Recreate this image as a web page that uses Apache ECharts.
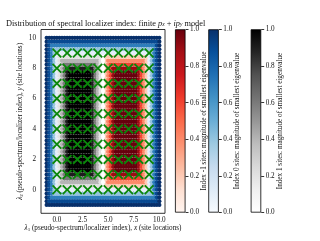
<!DOCTYPE html>
<html><head><meta charset="utf-8">
<script src="https://cdn.jsdelivr.net/npm/echarts@6/dist/echarts.min.js"></script>
<style>html,body{margin:0;padding:0;background:#fff}#c{width:320px;height:241px}</style>
</head><body><div id="c"></div>
<script>
// grid of probe points (pseudo-spectrum coordinates)
const xCoords = [-1,-0.75,-0.5,-0.25,0,0.25,0.5,0.75,1,1.25,1.5,1.75,2,2.25,2.5,2.75,3,3.25,3.5,3.75,4,4.25,4.5,4.75,5,5.25,5.5,5.75,6,6.25,6.5,6.75,7,7.25,7.5,7.75,8,8.25,8.5,8.75,9,9.25,9.5,9.75,10];
const yCoords = [-1,-0.75,-0.5,-0.25,0,0.25,0.5,0.75,1,1.25,1.5,1.75,2,2.25,2.5,2.75,3,3.25,3.5,3.75,4,4.25,4.5,4.75,5,5.25,5.5,5.75,6,6.25,6.5,6.75,7,7.25,7.5,7.75,8,8.25,8.5,8.75,9,9.25,9.5,9.75,10];
// rows from y=-1 (bottom) to y=10 (top), run-length encoded.
// a..k : index 0 (magnitude 0.0..1.0), A..K : index 1, p..z : index -1
const magnitudeRows = [
 "k45",
 "kj43k",
 "kjh41jk",
 "kjhe39hjk",
 "kjheb37ehjk",
 "kjhebC17Ar17behjk",
 "kjhebCE15CArt15rbehjk",
 "kjhebCEG13ECArtv13trbehjk",
 "kjhebCEGJ11GECArtvy11vtrbehjk",
 "kjhebCEGJK9JGECArtvyz9yvtrbehjk",
 "kjhebCEGJK9JGECArtvyz9yvtrbehjk",
 "kjhebCEGJK9JGECArtvyz9yvtrbehjk",
 "kjhebCEGJK9JGECArtvyz9yvtrbehjk",
 "kjhebCEGJK9JGECArtvyz9yvtrbehjk",
 "kjhebCEGJK9JGECArtvyz9yvtrbehjk",
 "kjhebCEGJK9JGECArtvyz9yvtrbehjk",
 "kjhebCEGJK9JGECArtvyz9yvtrbehjk",
 "kjhebCEGJK9JGECArtvyz9yvtrbehjk",
 "kjhebCEGJK9JGECArtvyz9yvtrbehjk",
 "kjhebCEGJK9JGECArtvyz9yvtrbehjk",
 "kjhebCEGJK9JGECArtvyz9yvtrbehjk",
 "kjhebCEGJK9JGECArtvyz9yvtrbehjk",
 "kjhebCEGJK9JGECArtvyz9yvtrbehjk",
 "kjhebCEGJK9JGECArtvyz9yvtrbehjk",
 "kjhebCEGJK9JGECArtvyz9yvtrbehjk",
 "kjhebCEGJK9JGECArtvyz9yvtrbehjk",
 "kjhebCEGJK9JGECArtvyz9yvtrbehjk",
 "kjhebCEGJK9JGECArtvyz9yvtrbehjk",
 "kjhebCEGJK9JGECArtvyz9yvtrbehjk",
 "kjhebCEGJK9JGECArtvyz9yvtrbehjk",
 "kjhebCEGJK9JGECArtvyz9yvtrbehjk",
 "kjhebCEGJK9JGECArtvyz9yvtrbehjk",
 "kjhebCEGJK9JGECArtvyz9yvtrbehjk",
 "kjhebCEGJK9JGECArtvyz9yvtrbehjk",
 "kjhebCEGJK9JGECArtvyz9yvtrbehjk",
 "kjhebCEGJK9JGECArtvyz9yvtrbehjk",
 "kjhebCEGJ11GECArtvy11vtrbehjk",
 "kjhebCEG13ECArtv13trbehjk",
 "kjhebCE15CArt15rbehjk",
 "kjhebC17Ar17behjk",
 "kjheb37ehjk",
 "kjhe39hjk",
 "kjh41jk",
 "kj43k",
 "k45"
];
// lattice site locations
const siteX = [0,1,2,3,4,5,6,7,8,9];
const siteY = [0,1,2,3,4,5,6,7,8,9];
const xTicks = [0, 2.5, 5, 7.5, 10];
const yTicks = [0, 2, 4, 6, 8, 10];
const cbTicks = [0, 0.2, 0.4, 0.6, 0.8, 1.0];

const REDS = ['#fff5f0','#fee0d2','#fcbba1','#fc9272','#fb6a4a','#ef3b2c','#cb181d','#a50f15','#67000d'];
const BLUES = ['#f7fbff','#deebf7','#c6dbef','#9ecae1','#6baed6','#4292c6','#2171b5','#08519c','#08306b'];
const GREYS = ['#ffffff','#f0f0f0','#d9d9d9','#bdbdbd','#969696','#737373','#525252','#252525','#000000'];

const pts = {'-1': [], '0': [], '1': []};
magnitudeRows.forEach((row, j) => {
  let i = 0;
  row.replace(/([a-zA-Z])(\d*)/g, (m, c, n) => {
    const cnt = n ? parseInt(n, 10) : 1;
    const code = c.charCodeAt(0);
    let idx, v;
    if (c >= 'a' && c <= 'k') { idx = '0'; v = (code - 97) / 10; }
    else if (c >= 'A' && c <= 'K') { idx = '1'; v = (code - 65) / 10; }
    else { idx = '-1'; v = (code - 112) / 10; }
    for (let k = 0; k < cnt; k++) { pts[idx].push([xCoords[i], yCoords[j], v]); i++; }
    return m;
  });
});
const sites = [];
siteY.forEach(y => siteX.forEach(x => sites.push([x, y])));

const FONT = 'Liberation Serif';
const TXT = '#111';
const FS = 7.2;
const rich = {
  m: {fontFamily: FONT, fontStyle: 'italic', fontSize: FS, color: TXT},
  n: {fontFamily: FONT, fontSize: 5, color: TXT, verticalAlign: 'bottom', padding: [3,0,0,0]}
};
const grad = (cm) => ({type: 'linear', x: 0, y: 0, x2: 0, y2: 1,
  colorStops: cm.slice().reverse().map((c, k) => ({offset: k / (cm.length - 1), color: c}))});

const cbLeft = [175, 208.3, 250.7];
const cbNames = ['Index -1 sites: magnitude of smallest eigenvalue',
                 'Index 0 sites: magnitude of smallest eigenvalue',
                 'Index 1 sites: magnitude of smallest eigenvalue'];
const cbMaps = [REDS, BLUES, GREYS];

const XSYM = 'path://M0,1.3L1.3,0L5,3.7L8.7,0L10,1.3L6.3,5L10,8.7L8.7,10L5,6.3L1.3,10L0,8.7L3.7,5Z';

const option = {
  animation: false,
  backgroundColor: '#fff',
  title: {
    text: 'Distribution of spectral localizer index: finite {m|p}{s|x} + {m|ip}{s|y} model',
    left: 1, top: 14,
    textStyle: {fontFamily: FONT, fontSize: 8.3, fontWeight: 'normal', color: TXT,
      rich: {m: {fontFamily: FONT, fontStyle: 'italic', fontSize: 8.3, color: TXT},
             s: {fontFamily: FONT, fontStyle: 'italic', fontSize: 5.5, color: TXT, verticalAlign: 'bottom', padding: [3,0,0,0]}}}
  },
  grid: [
    {left: 41, top: 29.5, width: 124, height: 183.8, show: true, borderColor: '#000', borderWidth: 0.8, backgroundColor: 'transparent'},
    ...cbLeft.map(l => ({left: l, top: 29.3, width: 10.5, height: 183.3}))
  ],
  xAxis: [
    {type: 'value', gridIndex: 0, min: -1.55, max: 10.55,
     axisLine: {show: false}, splitLine: {show: false},
     axisTick: {show: true, inside: false, length: 3.5, customValues: xTicks, lineStyle: {color: '#000', width: 0.8}},
     axisLabel: {customValues: xTicks, margin: 3.5, fontFamily: FONT, fontSize: FS, color: TXT, formatter: v => v.toFixed(1)},
     name: '{m|λ}{n|1} (pseudo-spectrum/localizer index), {m|x} (site locations)',
     nameLocation: 'middle', nameGap: 11, nameMoveOverlap: false,
     nameTextStyle: {fontFamily: FONT, fontSize: FS, color: TXT, rich: rich}},
    ...cbLeft.map((l, k) => ({type: 'category', gridIndex: k + 1, data: ['c'], show: false}))
  ],
  yAxis: [
    {type: 'value', gridIndex: 0, min: -1.55, max: 10.55,
     axisLine: {show: false}, splitLine: {show: false},
     axisTick: {show: true, inside: false, length: 3.5, customValues: yTicks, lineStyle: {color: '#000', width: 0.8}},
     axisLabel: {customValues: yTicks, margin: 5, fontFamily: FONT, fontSize: FS, color: TXT},
     name: '{m|λ}{n|2} (pseudo-spectrum/localizer index), {m|y} (site locations)',
     nameLocation: 'middle', nameGap: 17, nameRotate: 90, nameMoveOverlap: false,
     nameTextStyle: {fontFamily: FONT, fontSize: FS, color: TXT, rich: rich}},
    ...cbLeft.map((l, k) => ({type: 'value', gridIndex: k + 1, min: 0, max: 1, position: 'right',
      axisLine: {show: false}, splitLine: {show: false},
      axisTick: {show: true, inside: false, length: 3, customValues: cbTicks, lineStyle: {color: '#000', width: 0.8}},
      axisLabel: {customValues: cbTicks, margin: 4.5, fontFamily: FONT, fontSize: FS, color: TXT, formatter: v => v.toFixed(1)},
      name: cbNames[k], nameLocation: 'middle', nameRotate: 90, nameGap: 15, nameMoveOverlap: false,
      nameTextStyle: {fontFamily: FONT, fontSize: FS, color: TXT}}))
  ],
  visualMap: [
    {type: 'continuous', show: false, seriesIndex: 0, dimension: 2, min: 0, max: 1, inRange: {color: REDS}},
    {type: 'continuous', show: false, seriesIndex: 1, dimension: 2, min: 0, max: 1, inRange: {color: BLUES}},
    {type: 'continuous', show: false, seriesIndex: 2, dimension: 2, min: 0, max: 1, inRange: {color: GREYS}}
  ],
  series: [
    {type: 'scatter', xAxisIndex: 0, yAxisIndex: 0, data: pts['-1'], symbolSize: 4.2, itemStyle: {opacity: 1}},
    {type: 'scatter', xAxisIndex: 0, yAxisIndex: 0, data: pts['0'], symbolSize: 4.2, itemStyle: {opacity: 1}},
    {type: 'scatter', xAxisIndex: 0, yAxisIndex: 0, data: pts['1'], symbolSize: 4.2, itemStyle: {opacity: 1}},
    {type: 'scatter', xAxisIndex: 0, yAxisIndex: 0, data: sites, symbol: XSYM, symbolSize: 10, z: 5,
     itemStyle: {color: '#0a870a', opacity: 1}},
    ...cbLeft.map((l, k) => ({type: 'bar', xAxisIndex: k + 1, yAxisIndex: k + 1, data: [1], barWidth: '100%',
      itemStyle: {color: grad(cbMaps[k]), borderColor: '#000', borderWidth: 0.8}}))
  ]
};
const chart = echarts.init(document.getElementById('c'), null, {renderer: 'canvas'});
chart.setOption(option);
</script></body></html>
